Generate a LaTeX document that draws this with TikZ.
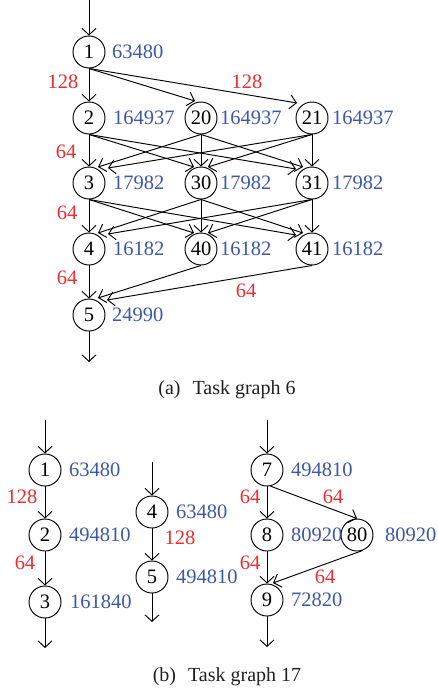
\documentclass[tikz,border=0pt]{standalone}
\usepackage{fontspec}
\setmainfont{Liberation Serif}
\usetikzlibrary{arrows.meta,calc}
\definecolor{lblblue}{RGB}{62,88,168}
\definecolor{lblred}{RGB}{237,45,50}
\definecolor{capgray}{RGB}{35,31,32}
\begin{document}
\begin{tikzpicture}[x=1pt,y=-1pt,
 task/.style={circle,draw,line width=0.95pt,minimum size=32pt,inner sep=0pt,font=\fontsize{20.5}{21}\selectfont},
 cost/.style={anchor=west,text=lblblue,inner sep=0pt,font=\fontsize{20.5}{21}\selectfont},
 comm/.style={text=lblred,inner sep=0pt,font=\fontsize{20.5}{21}\selectfont},
 edge/.style={line width=0.95pt,-{Straight Barb[length=6.5pt,width=14pt,line width=0.95pt]}},
 captext/.style={text=capgray,inner sep=0pt,font=\fontsize{20}{22}\selectfont}
]
\useasboundingbox (0,0) rectangle (437,694);

% ---------- (a) Task graph 6 ----------
\node[task] (t1)  at (89,52)   {1};
\node[task] (t2)  at (89,118)  {2};
\node[task] (t20) at (201,118) {20};
\node[task] (t21) at (312,118) {21};
\node[task] (t3)  at (89,183)  {3};
\node[task] (t30) at (201,183) {30};
\node[task] (t31) at (312,183) {31};
\node[task] (t4)  at (89,249)  {4};
\node[task] (t40) at (201,249) {40};
\node[task] (t41) at (312,249) {41};
\node[task] (t5)  at (89,315)  {5};

\node[cost] (c1)  at (112,52)  {63480};
\node[cost] (c2)  at (113,118) {164937};
\node[cost] (c20) at (220,118) {164937};
\node[cost] (c21) at (332,118) {164937};
\node[cost] (c3)  at (113,183) {17982};
\node[cost] (c30) at (220,183) {17982};
\node[cost] (c31) at (332,183) {17982};
\node[cost] (c4)  at (113,249) {16182};
\node[cost] (c40) at (220,249) {16182};
\node[cost] (c41) at (332,249) {16182};
\node[cost] (c5)  at (112,315) {24990};

\node[comm] (m12)  at (63,82)   {128};
\node[comm] (m121) at (247,82)  {128};
\node[comm] (m23)  at (66,152)  {64};
\node[comm] (m34)  at (67,213)  {64};
\node[comm] (m45)  at (67,278)  {64};
\node[comm] (m415) at (246,291) {64};

\coordinate (in6) at (89,0);
\coordinate (out6) at (89,362);
\draw[edge] (in6) -- (t1.north);
\draw[edge] (t5.south) -- (out6);

\draw[edge] (t1.south) -- (t2.north);
\draw[edge] (t1.south) -- ($(t20.center)+(-6,-17)$);
\draw[edge] (t1.south) -- ($(t21.center)+(-15,-15)$);

\draw[edge] (t2.south) -- (t3.north);
\draw[edge] (t2.south) -- ($(t30.center)+(-7,-16)$);
\draw[edge] (t2.south) -- ($(t31.center)+(-16,-14)$);
\draw[edge] (t20.south) -- ($(t3.center)+(9,-16)$);
\draw[edge] (t20.south) -- (t30.north);
\draw[edge] (t20.south) -- ($(t31.center)+(-9,-16)$);
\draw[edge] (t21.south) -- ($(t3.center)+(19,-15)$);
\draw[edge] (t21.south) -- ($(t30.center)+(7,-16)$);
\draw[edge] (t21.south) -- (t31.north);

\draw[edge] (t3.south) -- (t4.north);
\draw[edge] (t3.south) -- ($(t40.center)+(-7,-16)$);
\draw[edge] (t3.south) -- ($(t41.center)+(-16,-14)$);
\draw[edge] (t30.south) -- ($(t4.center)+(9,-16)$);
\draw[edge] (t30.south) -- (t40.north);
\draw[edge] (t30.south) -- ($(t41.center)+(-9,-16)$);
\draw[edge] (t31.south) -- ($(t4.center)+(19,-15)$);
\draw[edge] (t31.south) -- ($(t40.center)+(7,-16)$);
\draw[edge] (t31.south) -- (t41.north);

\draw[edge] (t4.south) -- (t5.north);
\draw[edge] (t40.south) -- ($(t5.center)+(9,-17)$);
\draw[edge] (t41.south) -- ($(t5.center)+(18,-15)$);

\node[captext] (capa) at (227,390) {(a)\hspace{0.6em}Task graph 6};

% ---------- (b) Task graph 17 ----------
\node[task] (b1)  at (45,470)  {1};
\node[task] (b2)  at (45,535)  {2};
\node[task] (b3)  at (45,602)  {3};
\node[task] (b4)  at (152,512) {4};
\node[task] (b5)  at (152,577) {5};
\node[task] (b7)  at (267,470) {7};
\node[task] (b8)  at (267,535) {8};
\node[task] (b80) at (357,535) {80};
\node[task] (b9)  at (267,600) {9};

\node[cost] (d1)  at (69,470)  {63480};
\node[cost] (d2)  at (69,535)  {494810};
\node[cost] (d3)  at (70,602)  {161840};
\node[cost] (d4)  at (176,512) {63480};
\node[cost] (d5)  at (176,577) {494810};
\node[cost] (d7)  at (291,470) {494810};
\node[cost] (d8)  at (291,535) {80920};
\node[cost] (d80) at (385,535) {80920};
\node[cost] (d9)  at (291,600) {72820};

\node[comm] (n12)  at (22,497)  {128};
\node[comm] (n23)  at (25,563)  {64};
\node[comm] (n45)  at (180,538) {128};
\node[comm] (n78)  at (250,497) {64};
\node[comm] (n780) at (333,497) {64};
\node[comm] (n89)  at (250,563) {64};
\node[comm] (n809) at (325,577) {64};

\coordinate (inb1) at (45,420);
\coordinate (outb3) at (45,648);
\coordinate (inb4) at (152,462);
\coordinate (outb5) at (152,622);
\coordinate (inb7) at (267,420);
\coordinate (outb9) at (267,647);

\draw[edge] (inb1) -- (b1.north);
\draw[edge] (b1.south) -- (b2.north);
\draw[edge] (b2.south) -- (b3.north);
\draw[edge] (b3.south) -- (outb3);

\draw[edge] (inb4) -- (b4.north);
\draw[edge] (b4.south) -- (b5.north);
\draw[edge] (b5.south) -- (outb5);

\draw[edge] (inb7) -- (b7.north);
\draw[edge] (b7.south) -- (b8.north);
\draw[edge] (b7.-78) -- (b80.north);
\draw[edge] (b8.south) -- (b9.north);
\draw[edge] (b80.-70) -- ($(b9.center)+(6,-17)$);
\draw[edge] (b9.south) -- (outb9);

\node[captext] (capb) at (227,677) {(b)\hspace{0.6em}Task graph 17};
\end{tikzpicture}
\end{document}
